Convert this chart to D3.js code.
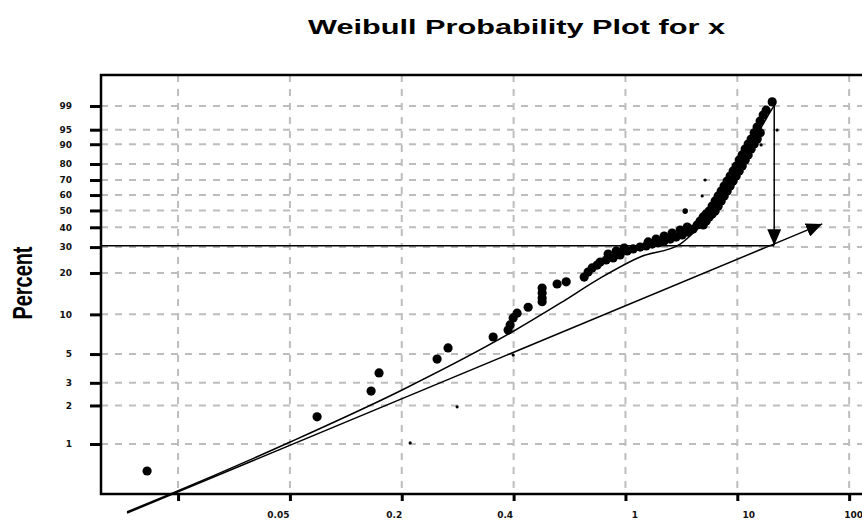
<!DOCTYPE html>
<html>
<head>
<meta charset="utf-8">
<script src="https://cdn.jsdelivr.net/npm/d3@7"></script>
<style>
  html, body { margin: 0; padding: 0; background: #fff; }
  svg { display: block; }
</style>
</head>
<body>
<svg id="chart" width="862" height="523"></svg>
<script>
// ---------------- DATA ----------------
const titleText = "Weibull Probability Plot for x";
const yAxisTitle = "Percent";

// x axis: tick positions (axis units) and their labels
const xTickPos = [0, 1, 2, 3, 4, 5, 6];
const xTickLabels = ["", "0.05", "0.2", "0.4", "1", "10", "100"];

// y axis: percent ticks (Weibull probability scale)
const yTickValues = [99, 95, 90, 80, 70, 60, 50, 40, 30, 20, 10, 5, 3, 2, 1];
const yTickLabels = ["99", "95", "90", "80", "70", "60", "50", "40", "30", "20", "10", "5", "3", "2", "1"];

// observed points (x in axis units, y in percent)
const pointsX = [
  -0.277, 1.243, 1.726, 1.797, 2.316, 2.414, 2.817, 2.951, 2.969, 2.996, 3.031, 3.130,
  3.255, 3.255, 3.255, 3.255, 3.389, 3.470, 3.631, 3.666, 3.702, 3.747,
  3.774, 3.827, 3.890, 3.952, 4.015, 4.069, 4.131, 4.185, 4.239, 4.292, 4.346, 4.400,
  4.453, 4.507, 4.560, 4.605, 4.641,
  3.845, 3.917, 3.988, 4.203, 4.274, 4.346, 4.417, 4.489, 4.552,
  4.668, 4.695, 4.721, 4.748, 4.775, 4.802, 4.829, 4.856, 4.882, 4.909, 4.936, 4.963,
  4.990, 5.017, 5.043, 5.070, 5.097, 5.124, 5.151, 5.177, 5.204, 5.231, 5.258, 5.312,
  4.695, 4.722, 4.749, 4.775, 4.802, 4.829, 4.856, 4.883, 4.910, 4.936, 4.963, 4.990,
  5.017, 5.044, 5.071, 5.097, 5.124, 5.151, 5.178, 5.205
];
const pointsY = [
  0.614, 1.63, 2.59, 3.58, 4.58, 5.57, 6.75, 7.63, 8.33, 9.40, 10.2, 11.3,
  12.4, 13.2, 14.4, 15.6, 16.7, 17.3, 18.7, 20.3, 21.7, 22.7,
  23.8, 24.6, 25.4, 26.6, 28.3, 29.2, 30.0, 30.5, 31.4, 31.9, 32.9, 33.8,
  34.8, 35.9, 37.4, 39.0, 41.3,
  27.0, 28.3, 29.6, 32.4, 33.8, 35.3, 36.9, 38.5, 40.1,
  43.6, 46.0, 47.8, 49.6, 52.8, 56.1, 59.4, 62.7, 66.0, 69.3, 72.6, 75.8,
  78.8, 82.3, 85.0, 87.9, 90.1, 92.0, 94.1, 95.7, 97.0, 98.0, 98.6, 99.3,
  41.3, 43.6, 46.0, 47.8, 49.6, 52.8, 56.1, 59.4, 62.7, 66.0, 69.3, 72.6,
  75.8, 78.8, 82.3, 85.0, 87.9, 90.1, 92.0, 94.1
];

// small stray marks
const smallX = [2.996, 2.495, 2.075, 4.686, 4.712, 5.356, 5.213];
const smallY = [4.92, 1.95, 1.02, 59.4, 70.0, 94.9, 89.7];
const mediumX = [4.534];
const mediumY = [49.6];

// fitted curve
const curveX = [-0.456, -0.089, 1.002, 2.003, 2.987, 3.416, 3.774, 4.131, 4.489, 4.668, 4.847, 4.963, 5.115, 5.267, 5.339];
const curveY = [0.293, 0.398, 1.036, 2.64, 7.37, 12.1, 18.4, 25.8, 31.4, 40.7, 54.8, 70.0, 88.4, 97.7, 99.16];

// straight reference line (with arrow)
const lineX = [-0.456, 5.759];
const lineY = [0.287, 41.9];

// horizontal reference level and vertical arrow
const refLevel = 30.6;
const arrowX = 5.330;
const arrowFromY = 99.2;
const arrowToY = 30.8;

// ---------------- LAYOUT ----------------
const L = 101, R = 876, T = 75, B = 494;
const xLabelShift = [0, -12, -8, -9, 9, 11, 4];

const wb = p => Math.log(-Math.log(1 - p / 100));
const x = d3.scaleLinear().domain([-0.689, 6.24]).range([L, R]);
const yT = d3.scaleLinear().domain([-5.507, 2.089]).range([B, T]);
const y = p => yT(wb(p));

const svg = d3.select("#chart");

const defs = svg.append("defs");
defs.append("marker")
  .attr("id", "ah")
  .attr("viewBox", "0 0 10 10")
  .attr("refX", 10).attr("refY", 5)
  .attr("markerWidth", 16).attr("markerHeight", 14)
  .attr("markerUnits", "userSpaceOnUse")
  .attr("preserveAspectRatio", "none")
  .attr("orient", "auto")
  .append("path").attr("d", "M0,0L10,5L0,10z").attr("fill", "#000");

// grid
const grid = svg.append("g");
grid.selectAll("line.v").data(xTickPos).join("line")
  .attr("x1", d => x(d)).attr("x2", d => x(d))
  .attr("y1", T).attr("y2", B)
  .attr("stroke", "#bdbdbd").attr("stroke-width", 2).attr("stroke-dasharray", "7,7");
grid.selectAll("line.h").data(yTickValues).join("line")
  .attr("x1", L).attr("x2", R)
  .attr("y1", d => y(d)).attr("y2", d => y(d))
  .attr("stroke", "#bdbdbd").attr("stroke-width", 2).attr("stroke-dasharray", "7,7");

// axes
const yAxis = svg.append("g").attr("transform", `translate(${L},0)`)
  .call(d3.axisLeft(yT).tickValues(yTickValues.map(wb))
    .tickFormat((d, i) => yTickLabels[i]).tickSize(11).tickPadding(18));
yAxis.select(".domain").remove();
yAxis.selectAll(".tick line").attr("stroke", "#000").attr("stroke-width", 3);
yAxis.selectAll(".tick text").attr("font-family", "DejaVu Sans, sans-serif")
  .attr("font-size", 9).attr("font-weight", "bold").attr("fill", "#111");

const xAxis = svg.append("g").attr("transform", `translate(0,${B})`)
  .call(d3.axisBottom(x).tickValues(xTickPos)
    .tickFormat((d, i) => xTickLabels[i]).tickSize(7).tickPadding(10.5));
xAxis.select(".domain").remove();
xAxis.selectAll(".tick line").attr("stroke", "#000").attr("stroke-width", 3);
xAxis.selectAll(".tick text").attr("font-family", "DejaVu Sans, sans-serif")
  .attr("font-size", 9).attr("font-weight", "bold").attr("fill", "#111")
  .attr("dx", (d, i) => xLabelShift[i]);

// frame
svg.append("rect").attr("x", L).attr("y", T).attr("width", R - L).attr("height", B - T)
  .attr("fill", "none").attr("stroke", "#000").attr("stroke-width", 2.5);

// horizontal reference line
svg.append("line")
  .attr("x1", L).attr("x2", x(arrowX))
  .attr("y1", y(refLevel)).attr("y2", y(refLevel))
  .attr("stroke", "#000").attr("stroke-width", 1.5);

// fitted curve
const line = d3.line().x(d => x(d[0])).y(d => y(d[1])).curve(d3.curveMonotoneX);
svg.append("path")
  .attr("d", line(curveX.map((v, i) => [v, curveY[i]])))
  .attr("fill", "none").attr("stroke", "#000").attr("stroke-width", 1.5);

// straight line with arrow
svg.append("path")
  .attr("d", d3.line().x(d => x(d[0])).y(d => y(d[1]))(lineX.map((v, i) => [v, lineY[i]])))
  .attr("fill", "none").attr("stroke", "#000").attr("stroke-width", 1.5)
  .attr("marker-end", "url(#ah)");

// points
svg.append("g").selectAll("circle").data(pointsX.map((v, i) => [v, pointsY[i]])).join("circle")
  .attr("cx", d => x(d[0])).attr("cy", d => y(d[1])).attr("r", 4.6).attr("fill", "#000");
svg.append("g").selectAll("circle").data(smallX.map((v, i) => [v, smallY[i]])).join("circle")
  .attr("cx", d => x(d[0])).attr("cy", d => y(d[1])).attr("r", 1.6).attr("fill", "#000");
svg.append("g").selectAll("circle").data(mediumX.map((v, i) => [v, mediumY[i]])).join("circle")
  .attr("cx", d => x(d[0])).attr("cy", d => y(d[1])).attr("r", 2.8).attr("fill", "#000");

// vertical arrow
svg.append("line")
  .attr("x1", x(arrowX)).attr("x2", x(arrowX))
  .attr("y1", y(arrowFromY)).attr("y2", y(arrowToY))
  .attr("stroke", "#000").attr("stroke-width", 1.5)
  .attr("marker-end", "url(#ah)");

// title
svg.append("text")
  .attr("x", 516.5).attr("y", 34)
  .attr("text-anchor", "middle")
  .attr("font-family", "Liberation Sans, Arial, sans-serif")
  .attr("font-weight", "bold").attr("font-size", 20)
  .attr("textLength", 417).attr("lengthAdjust", "spacingAndGlyphs")
  .attr("fill", "#000")
  .text(titleText);

// y axis title
svg.append("text")
  .attr("transform", "translate(32,283) rotate(-90)")
  .attr("text-anchor", "middle")
  .attr("font-family", "Liberation Sans, Arial, sans-serif")
  .attr("font-weight", "bold").attr("font-size", 28)
  .attr("textLength", 73).attr("lengthAdjust", "spacingAndGlyphs")
  .attr("fill", "#000")
  .text(yAxisTitle);
</script>
</body>
</html>
